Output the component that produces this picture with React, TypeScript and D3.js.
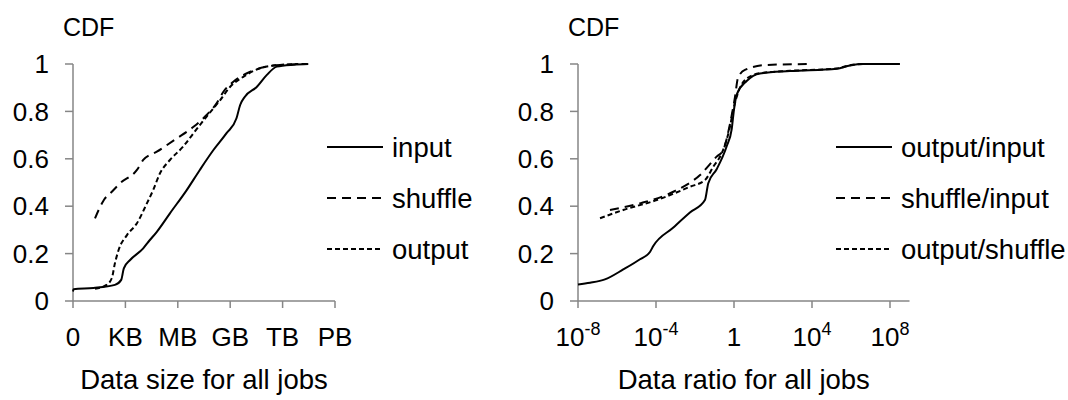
import React from "react";
import * as d3 from "d3";

// ---------- Data (left: data size, x in units of log1000(bytes): 0=1B, 1=KB, ...) ----------
const sizeTickLabels = ["0", "KB", "MB", "GB", "TB", "PB"];
const sizeTicks = [0, 1, 2, 3, 4, 5];

const inputSize: [number, number][] = [
  [0.0, 0.04], [0.01, 0.05], [0.39, 0.055], [0.8, 0.068], [0.92, 0.089], [0.97, 0.138],
  [1.09, 0.173], [1.34, 0.222], [1.44, 0.25], [1.6, 0.292], [1.85, 0.37],
  [2.17, 0.468], [2.42, 0.553], [2.68, 0.637], [2.93, 0.708], [3.12, 0.771],
  [3.19, 0.827], [3.28, 0.862], [3.51, 0.904], [3.7, 0.954], [3.89, 0.989],
  [4.21, 0.997], [4.49, 1.0],
];
const shuffleSize: [number, number][] = [
  [0.42, 0.349], [0.57, 0.419], [0.61, 0.433], [0.71, 0.454], [0.9, 0.497],
  [1.22, 0.553], [1.34, 0.595], [1.6, 0.63], [1.98, 0.686], [2.3, 0.735],
  [2.55, 0.785], [2.74, 0.834], [2.87, 0.883], [3.06, 0.925], [3.32, 0.961],
  [3.7, 0.989], [4.08, 0.997], [4.47, 1.0],
];
const outputSize: [number, number][] = [
  [0.42, 0.052], [0.64, 0.068], [0.74, 0.096], [0.8, 0.159], [0.87, 0.215],
  [1.03, 0.278], [1.22, 0.328], [1.41, 0.412], [1.53, 0.468], [1.66, 0.539],
  [1.85, 0.595], [2.1, 0.651], [2.3, 0.708], [2.55, 0.778], [2.81, 0.848],
  [3.0, 0.904], [3.25, 0.946], [3.57, 0.982], [3.95, 0.996], [4.3, 1.0],
];

// ---------- Data (right: ratio, x = log10(ratio)) ----------
const ratioTicks = [-8, -4, 0, 4, 8];

const outputInput: [number, number][] = [
  [-8.0, 0.07], [-7.38, 0.077], [-6.62, 0.091], [-5.68, 0.133], [-4.82, 0.176],
  [-4.31, 0.207], [-4.14, 0.232], [-3.11, 0.31], [-2.26, 0.373], [-1.49, 0.426],
  [-1.32, 0.497], [-0.89, 0.556], [-0.37, 0.654], [-0.12, 0.724], [0.0, 0.808],
  [0.14, 0.871], [0.65, 0.928], [1.33, 0.96], [2.87, 0.97], [5.27, 0.98],
  [5.95, 0.994], [6.63, 1.0], [8.5, 1.0],
];
const shuffleInput: [number, number][] = [
  [-6.36, 0.384], [-4.82, 0.412], [-3.11, 0.461], [-1.74, 0.532], [-0.89, 0.609],
  [-0.55, 0.637], [-0.2, 0.75], [0.05, 0.86], [0.2, 0.94], [0.56, 0.975],
  [1.68, 0.996], [3.9, 1.0],
];
const outputShuffle: [number, number][] = [
  [-6.87, 0.349], [-5.68, 0.384], [-3.96, 0.426], [-2.26, 0.482], [-1.49, 0.51],
  [-1.06, 0.567], [-0.63, 0.623], [-0.25, 0.72], [0.0, 0.82], [0.31, 0.9],
  [0.6, 0.935], [1.33, 0.961], [2.87, 0.971], [5.27, 0.981], [5.95, 0.995],
  [6.63, 1.0], [8.5, 1.0],
];

const sizeLegend = ["input", "shuffle", "output"];
const ratioLegend = ["output/input", "shuffle/input", "output/shuffle"];
const yTicks = [0, 0.2, 0.4, 0.6, 0.8, 1];

const FONT = "'Liberation Sans', Arial, sans-serif";
const AXIS = "#868686";
const DASHES = [undefined, "9,6", "5,3"];

const yScale = d3.scaleLinear().domain([0, 1]).range([301, 64]);

function Panel(props: {
  x: d3.ScaleLinear<number, number>;
  ticks: number[];
  tickLabel: (v: number, i: number) => React.ReactNode;
  series: [number, number][][];
  legend: string[];
  legendX: number;
  title: string;
}) {
  const { x, ticks, tickLabel, series, legend, legendX, title } = props;
  const [x0, x1] = x.range();
  const line = d3
    .line<[number, number]>()
    .x((d) => x(d[0]))
    .y((d) => yScale(d[1]))
    .curve(d3.curveMonotoneX);
  const legendY = [147, 198, 249];
  return (
    <g>
      <text x={x0 - 10} y={36} fontSize={25} fontFamily={FONT}>CDF</text>
      {/* y axis */}
      <line x1={x0} x2={x0} y1={yScale(1)} y2={yScale(0)} stroke={AXIS} strokeWidth={1.5} />
      {yTicks.map((t) => (
        <g key={t}>
          <line x1={x0 - 8} x2={x0} y1={yScale(t)} y2={yScale(t)} stroke={AXIS} strokeWidth={1.5} />
          <text x={x0 - 24} y={yScale(t)} dy="0.35em" textAnchor="end" fontSize={26} fontFamily={FONT}>
            {d3.format("~g")(t)}
          </text>
        </g>
      ))}
      {/* x axis */}
      <line x1={x0} x2={x1} y1={yScale(0)} y2={yScale(0)} stroke={AXIS} strokeWidth={1.5} />
      {ticks.map((t, i) => (
        <g key={t}>
          <line x1={x(t)} x2={x(t)} y1={yScale(0)} y2={yScale(0) + 7} stroke={AXIS} strokeWidth={1.5} />
          <text x={x(t)} y={346} textAnchor="middle" fontSize={26} fontFamily={FONT}>
            {tickLabel(t, i)}
          </text>
        </g>
      ))}
      <text x={(x0 + x1) / 2} y={389} textAnchor="middle" fontSize={27.5} fontFamily={FONT}>
        {title}
      </text>
      {series.map((s, i) => (
        <path
          key={i}
          d={line(s) || ""}
          fill="none"
          stroke="#000"
          strokeWidth={2}
          strokeDasharray={DASHES[i]}
        />
      ))}
      {legend.map((name, i) => (
        <g key={name}>
          <line
            x1={legendX}
            x2={legendX + 56}
            y1={legendY[i]}
            y2={legendY[i]}
            stroke="#000"
            strokeWidth={2}
            strokeDasharray={DASHES[i]}
          />
          <text x={legendX + 65} y={legendY[i]} dy="0.35em" fontSize={27.5} fontFamily={FONT}>
            {name}
          </text>
        </g>
      ))}
    </g>
  );
}

export default function App() {
  const xSize = d3.scaleLinear().domain([0, 5]).range([73, 335]);
  const xRatio = d3.scaleLinear().domain([-8, 9]).range([578, 909.5]);
  return (
    <svg
      width={1068}
      height={400}
      style={{ position: "absolute", left: 0, top: 0, background: "#fff" }}
    >
      <rect width={1068} height={400} fill="#fff" />
      <Panel
        x={xSize}
        ticks={sizeTicks}
        tickLabel={(_, i) => sizeTickLabels[i]}
        series={[inputSize, shuffleSize, outputSize]}
        legend={sizeLegend}
        legendX={327}
        title="Data size for all jobs"
      />
      <Panel
        x={xRatio}
        ticks={ratioTicks}
        tickLabel={(t) =>
          t === 0 ? (
            "1"
          ) : (
            <>
              10
              <tspan dy={-11} fontSize={18}>
                {String(t)}
              </tspan>
            </>
          )
        }
        series={[outputInput, shuffleInput, outputShuffle]}
        legend={ratioLegend}
        legendX={836}
        title="Data ratio for all jobs"
      />
    </svg>
  );
}
